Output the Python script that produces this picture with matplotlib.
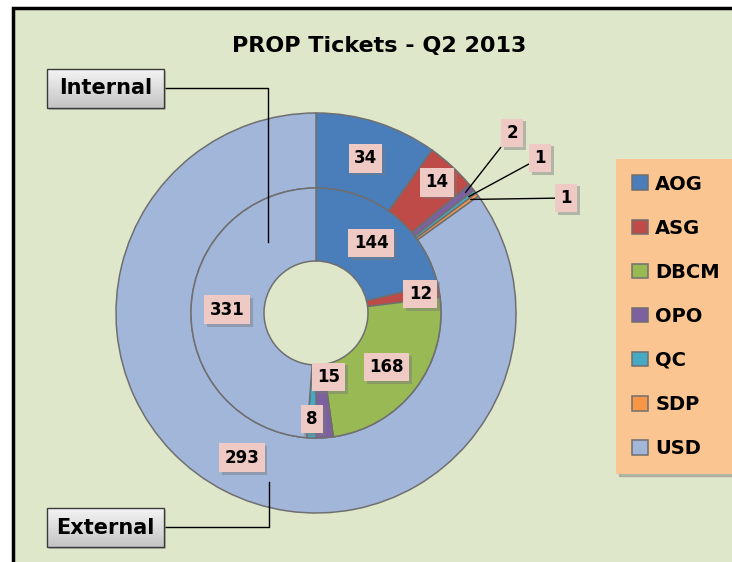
import numpy as np
import matplotlib
matplotlib.use('Agg')
import matplotlib.pyplot as plt
import matplotlib.patheffects as pe
from matplotlib.patches import Rectangle
from matplotlib.colors import LinearSegmentedColormap

plt.rcParams['font.family'] = ['DejaVu Sans']
plt.rcParams['font.weight'] = 'bold'

teams = ['AOG', 'ASG', 'DBCM', 'OPO', 'QC', 'SDP', 'USD']
internal = [144, 12, 168, 15, 8, 0, 331]
external = [34, 14, 0, 2, 1, 1, 293]
colors = ['#4A7EBB', '#BE4B48', '#98B954', '#7D60A0', '#46AAC5', '#F79646', '#A2B6DA']

W, H = 732, 562
CX, CY, R = 316, 313, 200   # pie centre and radius in pixels

def px(x, y):
    # pixel position (from top-left) -> data units of the pie axes
    return (x - CX) / R, (CY - y) / R

fig = plt.figure(figsize=(W / 100, H / 100), dpi=100)
fig.patch.set_facecolor('white')
ax = fig.add_axes([0, 0, 1, 1])

# chart area
x0, y0 = px(13, 8)
x1, y1 = px(745, 575)
ax.add_patch(Rectangle((x0, y1), x1 - x0, y0 - y1, fc='#DEE7C9', ec='black', lw=2.5, zorder=0))

wp = dict(edgecolor='#6F6F6F', linewidth=1.1)
outer, _ = ax.pie(external, radius=1.0, colors=colors, startangle=90, counterclock=False,
                  wedgeprops=dict(width=0.375, **wp))
inner, _ = ax.pie(internal, radius=0.625, colors=colors, startangle=90, counterclock=False,
                  wedgeprops=dict(width=0.365, **wp))

shadow = [pe.withSimplePatchShadow(offset=(2, -2), shadow_rgbFace='#7a7a7a', alpha=0.45)]
tag_box = dict(boxstyle='square,pad=0.32', fc='#EFCAC5', ec='none')

def mid_angles(vals):
    vals = np.asarray(vals, dtype=float)
    cum = np.cumsum(vals)
    return np.radians((cum - vals / 2) / vals.sum() * 360)

def tag(x, y, s):
    t = ax.text(x, y, s, ha='center', va='center', fontsize=12, fontweight='bold', zorder=6, bbox=tag_box)
    t.get_bbox_patch().set_path_effects(shadow)

# inner ring labels
inner_r = {'ASG': 0.53, 'OPO': 0.32, 'QC': 0.53}
for name, v, a in zip(teams, internal, mid_angles(internal)):
    if v == 0:
        continue
    r = inner_r.get(name, 0.445)
    x, y = r * np.sin(a), r * np.cos(a)
    if name == 'OPO':
        x += 0.04
    tag(x, y, str(v))

# outer ring labels
outer_r = {'ASG': 0.89}
callout = {'OPO': (512, 133), 'QC': (540, 158), 'SDP': (566, 198)}
for name, v, a in zip(teams, external, mid_angles(external)):
    if v == 0:
        continue
    if name in callout:
        tip = (0.96 * np.sin(a), 0.96 * np.cos(a))
        t = ax.annotate(str(v), xy=tip, xytext=px(*callout[name]), ha='center', va='center',
                        fontsize=12, fontweight='bold', zorder=6, bbox=tag_box,
                        arrowprops=dict(arrowstyle='-', color='black', lw=1.0, shrinkA=0, shrinkB=0))
        t.get_bbox_patch().set_path_effects(shadow)
        continue
    r = outer_r.get(name, 0.8125)
    tag(r * np.sin(a), r * np.cos(a), str(v))

# ring name boxes with elbow connectors
grey = LinearSegmentedColormap.from_list('g', ['#C4C4C4', '#F4F4F4'])
def ring_box(text, left, top, line):
    bx0, by0 = px(left, top + 39)
    bx1, by1 = px(left + 117, top)
    ax.add_patch(Rectangle((bx0 + 0.012, by0 - 0.012), bx1 - bx0, by1 - by0, fc='#9a9a9a', ec='none', alpha=0.6, zorder=6))
    ax.imshow(np.linspace(0, 1, 50).reshape(-1, 1), cmap=grey, origin='lower', aspect='auto',
              extent=(bx0, bx1, by0, by1), zorder=7)
    ax.add_patch(Rectangle((bx0, by0), bx1 - bx0, by1 - by0, fc='none', ec='#3a3a3a', lw=1.0, zorder=8))
    ax.text((bx0 + bx1) / 2, (by0 + by1) / 2, text, ha='center', va='center', fontsize=15,
            fontweight='bold', zorder=9)
    xs, ys = zip(*[px(*p) for p in line])
    ax.plot(xs, ys, color='black', lw=1.0, zorder=5)

ring_box('Internal', 47, 69, [(164, 88), (268, 88), (268, 242)])
ring_box('External', 47, 508, [(164, 527), (269, 527), (269, 482)])

ax.text(*px(379, 46), 'PROP Tickets - Q2 2013', ha='center', va='center', fontsize=16, fontweight='bold')

leg = ax.legend(handles=outer, labels=teams, loc='upper left', bbox_to_anchor=(616 / W, 1 - 159 / H),
                bbox_transform=fig.transFigure, frameon=True, fancybox=False,
                shadow={'color': '#8a8a8a', 'alpha': 0.5},
                prop={'weight': 'bold', 'size': 14}, labelspacing=1.29, handlelength=0.82,
                handleheight=0.78, handletextpad=0.4, borderpad=0.8, borderaxespad=0)
leg.get_frame().set_facecolor('#FAC591')
leg.get_frame().set_edgecolor('none')
leg.get_frame().set_alpha(1)

ax.set_xlim(px(0, 0)[0], px(W, 0)[0])
ax.set_ylim(px(0, H)[1], px(0, 0)[1])
ax.set_aspect('auto')
ax.axis('off')

fig.savefig('out.png', dpi=100)
